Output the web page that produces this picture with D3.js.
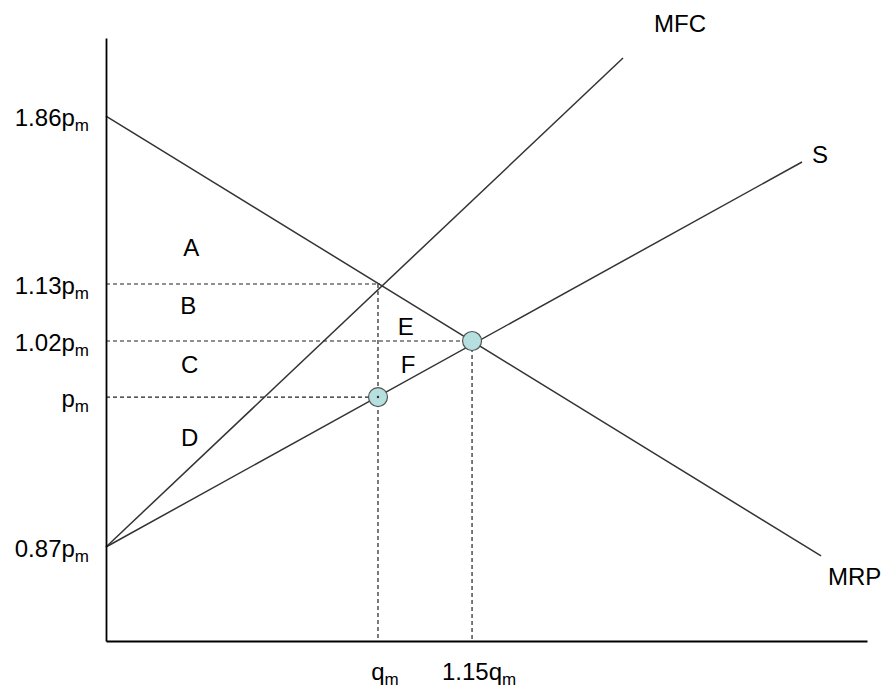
<!DOCTYPE html>
<meta charset="utf-8">
<title>Monopsony MFC / MRP</title>
<style>
  body { margin: 0; background: #fff; }
  text { font-family: "Liberation Sans", Arial, sans-serif; fill: #000; }
</style>
<body>
<div id="chart"></div>
<script src="https://d3js.org/d3.v7.min.js"></script>
<script>
// chart units: 0-100 on both axes (schematic diagram)
var yTicks = [
  {base: "1.86p", v: 87.06},
  {base: "1.13p", v: 59.2},
  {base: "1.02p", v: 49.75},
  {base: "p",     v: 40.46},
  {base: "0.87p", v: 15.59}
];
var xTicks = [
  {base: "q",     u: 35.74},
  {base: "1.15q", u: 48.1}
];

var mrp    = [[0, 87.06], [93.96, 14.1]];
var supply = [[0, 15.59], [91.46, 79.44]];
var mfc    = [[0, 15.59], [67.94, 96.68]];

// dashed guides: [u0, v0, u1, v1]
var guides = [
  [0, 59.2, 36.0, 59.2],
  [0, 49.75, 48.1, 49.75],
  [0, 40.46, 35.74, 40.46],
  [35.74, 59.2, 35.74, 0],
  [48.1, 49.75, 48.1, 0]
];

var points = [[35.74, 40.46], [48.1, 49.75]];

var areas = [
  {t: "A", u: 11.2, v: 65.2},
  {t: "B", u: 10.8, v: 55.6},
  {t: "C", u: 11.0, v: 45.9},
  {t: "D", u: 11.0, v: 33.8},
  {t: "E", u: 39.4, v: 52.2},
  {t: "F", u: 39.7, v: 45.9}
];

var W = 886, H = 691;
var svg = d3.select("#chart").append("svg")
  .attr("width", W).attr("height", H);

var x = d3.scaleLinear().domain([0, 100]).range([106, 867]);
var y = d3.scaleLinear().domain([0, 100]).range([641, 38]);

// dashed guides
svg.append("g").selectAll("line").data(guides).enter().append("line")
  .attr("x1", d => x(d[0])).attr("y1", d => y(d[1]))
  .attr("x2", d => x(d[2])).attr("y2", d => y(d[3]))
  .attr("stroke", "#222").attr("stroke-width", 1.2)
  .attr("stroke-dasharray", "4,3");

// curves
var line = d3.line().x(d => x(d[0])).y(d => y(d[1]));
[mrp, supply, mfc].forEach(function(c) {
  svg.append("path").attr("d", line(c))
    .attr("fill", "none").attr("stroke", "#333").attr("stroke-width", 1.5);
});

// axes
var yAxis = svg.append("g").attr("transform", "translate(" + x(0) + ",0)")
  .call(d3.axisLeft(y).tickValues(yTicks.map(d => d.v)).tickSize(0).tickSizeOuter(0).tickFormat(""));
var xAxis = svg.append("g").attr("transform", "translate(0," + y(0) + ")")
  .call(d3.axisBottom(x).tickValues(xTicks.map(d => d.u)).tickSize(0).tickSizeOuter(0).tickFormat(""));
[yAxis, xAxis].forEach(function(a) {
  a.select(".domain").attr("stroke", "#000").attr("stroke-width", 1.8);
});

// tick labels with subscript m
var yl = svg.append("g").selectAll("text").data(yTicks).enter().append("text")
  .attr("x", 89).attr("y", d => y(d.v) + 10)
  .attr("text-anchor", "end").style("font-size", "24px");
yl.append("tspan").text(d => d.base);
yl.append("tspan").text("m").attr("dy", 5).style("font-size", "17px");

var xl = svg.append("g").selectAll("text").data(xTicks).enter().append("text")
  .attr("x", d => x(d.u) + 7).attr("y", 680)
  .attr("text-anchor", "middle").style("font-size", "24px");
xl.append("tspan").text(d => d.base);
xl.append("tspan").text("m").attr("dy", 5).style("font-size", "17px");

// curve labels
svg.append("text").attr("x", x(mfc[1][0]) + 31).attr("y", y(mfc[1][1]) - 26)
  .style("font-size", "24px").text("MFC");
svg.append("text").attr("x", x(supply[1][0]) + 10).attr("y", y(supply[1][1]) + 1)
  .style("font-size", "24px").text("S");
svg.append("text").attr("x", x(mrp[1][0]) + 7).attr("y", y(mrp[1][1]) + 29)
  .style("font-size", "24px").text("MRP");

// area letters
svg.append("g").selectAll("text").data(areas).enter().append("text")
  .attr("x", d => x(d.u)).attr("y", d => y(d.v)).attr("dy", "0.36em")
  .attr("text-anchor", "middle").style("font-size", "24px")
  .text(d => d.t);

// equilibrium points
svg.append("g").selectAll("circle").data(points).enter().append("circle")
  .attr("cx", d => x(d[0])).attr("cy", d => y(d[1])).attr("r", 9.5)
  .attr("fill", "#b6dfe0").attr("stroke", "#555").attr("stroke-width", 1.2);
svg.append("circle").attr("cx", x(points[0][0])).attr("cy", y(points[0][1]))
  .attr("r", 1.2).attr("fill", "#333");
</script>
</body>
